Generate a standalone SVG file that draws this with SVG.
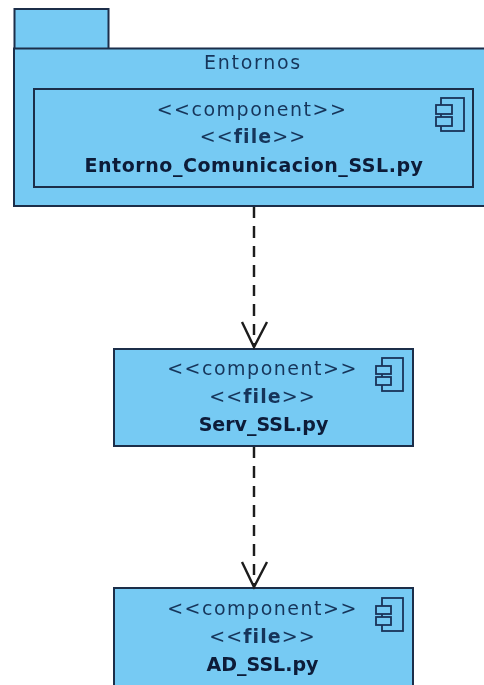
<svg xmlns="http://www.w3.org/2000/svg" width="484" height="685" viewBox="0 0 484 685">
<defs><filter id="soft" x="-2%" y="-2%" width="104%" height="104%"><feGaussianBlur stdDeviation="0.4"/></filter></defs>
<style>
.node,#connectors{filter:url(#soft)}
.box{fill:#76CAF3;stroke:#1A2F4A;stroke-width:2}
.ico{fill:none;stroke:#1A3358;stroke-width:1.8}
.icb{fill:#76CAF3;stroke:#1A3358;stroke-width:1.8}
text{font-family:"DejaVu Sans",sans-serif;text-anchor:middle;fill:#17355A;font-size:19px}
.st{letter-spacing:1.5px}
.f{letter-spacing:1.1px}
.t{letter-spacing:1.7px}
.b{font-weight:bold;fill:#0C1A38}
.conn{fill:none;stroke:#1C1C1C;stroke-width:2.4}
</style>
<rect width="484" height="685" fill="#fff"/>
<g id="entornos" class="node">
<rect class="box" x="14.500" y="9" width="94" height="40"/>
<path d="M490 48.500H14V206H490Z" class="box"/>
<text class="t" x="253" y="69">Entornos</text>
</g>
<g id="entorno-comunicacion" class="node">
<rect class="box" x="34" y="89" width="439" height="98"/>
<text class="st" x="252" y="116">&lt;&lt;component&gt;&gt;</text>
<text class="f" x="253" y="143">&lt;&lt;<tspan font-weight="bold">file</tspan>&gt;&gt;</text>
<text class="b" x="254" y="172" letter-spacing="0.55">Entorno_Comunicacion_SSL.py</text>
<g><rect class="ico" x="441" y="98" width="23" height="33"/><rect class="icb" x="436" y="105" width="16" height="9"/><rect class="icb" x="436" y="117" width="16" height="9"/></g>
</g>
<g id="serv-ssl" class="node">
<rect class="box" x="114" y="349" width="299" height="97"/>
<text class="st" x="262.500" y="375">&lt;&lt;component&gt;&gt;</text>
<text class="f" x="262.500" y="403">&lt;&lt;<tspan font-weight="bold">file</tspan>&gt;&gt;</text>
<text class="b" x="263.500" y="431">Serv_SSL.py</text>
<g><rect class="ico" x="382" y="358" width="21" height="33"/><rect class="icb" x="376" y="366" width="15" height="8"/><rect class="icb" x="376" y="377" width="15" height="8"/></g>
</g>
<g id="ad-ssl" class="node">
<rect class="box" x="114" y="588" width="299" height="110"/>
<text class="st" x="262.500" y="615">&lt;&lt;component&gt;&gt;</text>
<text class="f" x="262.500" y="643">&lt;&lt;<tspan font-weight="bold">file</tspan>&gt;&gt;</text>
<text class="b" x="262.500" y="671">AD_SSL.py</text>
<g><rect class="ico" x="382" y="598" width="21" height="33"/><rect class="icb" x="376" y="606" width="15" height="8"/><rect class="icb" x="376" y="617" width="15" height="8"/></g>
</g>
<g id="connectors">
<path class="conn" d="M254 207V347" stroke-dasharray="11 8 12 8"/>
<path class="conn" d="M242 322L254 347L267 322"/>
<path class="conn" d="M254 447V586" stroke-dasharray="11 8 12 8"/>
<path class="conn" d="M242 562L254 587L267 562"/>
</g>
</svg>
